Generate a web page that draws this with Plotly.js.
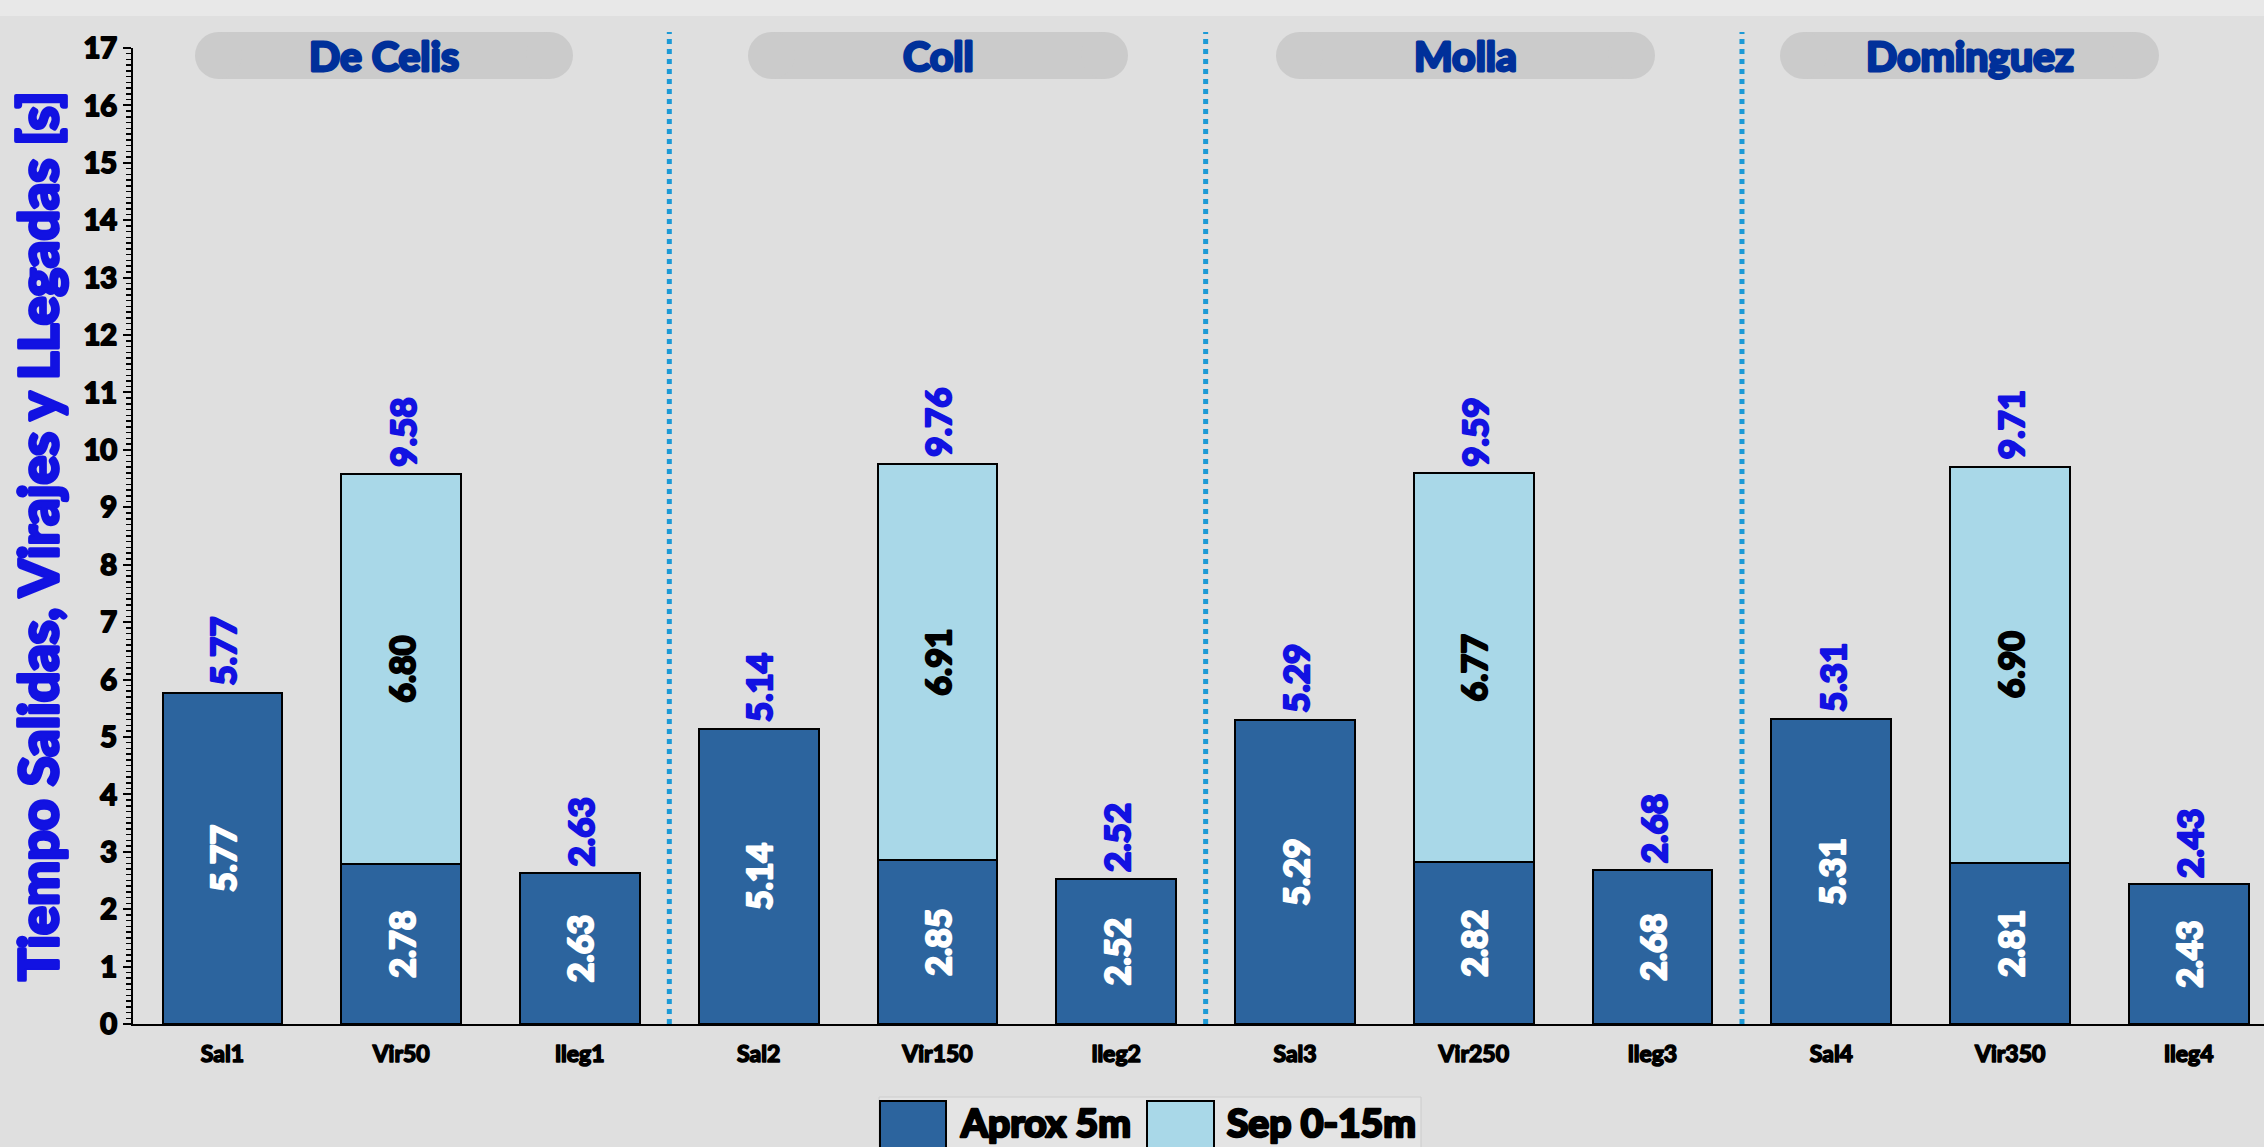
<!DOCTYPE html>
<html>
<head>
<meta charset="utf-8">
<script src="https://cdn.plot.ly/plotly-3.0.1.min.js"></script>
<style>html,body{margin:0;padding:0;background:#dfdfdf;}#chart{width:2264px;height:1147px;}</style>
</head>
<body>
<div id="chart"></div>
<script>
// ---- data ----
const categories = ['Sal1','Vir50','lleg1','Sal2','Vir150','lleg2','Sal3','Vir250','lleg3','Sal4','Vir350','lleg4'];
const aprox5m = [5.77, 2.78, 2.63, 5.14, 2.85, 2.52, 5.29, 2.82, 2.68, 5.31, 2.81, 2.43];
const sep015m = [null, 6.80, null, null, 6.91, null, null, 6.77, null, null, 6.90, null];
const groupNames = ['De Celis', 'Coll', 'Molla', 'Dominguez'];
const seriesNames = ['Aprox 5m', 'Sep 0-15m'];
const yTicks = [0,1,2,3,4,5,6,7,8,9,10,11,12,13,14,15,16,17];

// ---- styling / layout constants ----
const W = 2264, H = 1147;
const M = {l: 133, r: 0, t: 48, b: 123};
const PW = W - M.l - M.r, PH = H - M.t - M.b;
const XMIN = -0.5, XMAX = 11.42;
const FONT = 'Lato, "Open Sans", sans-serif';
const WT = 'bold';
const DARK = '#2c649e', LIGHT = '#a9d8e8';
const BLUE = '#1212e2', NAVY = '#00309a', SEP = '#1c9ad6';

const px = v => (v - M.l) / PW;          // pixel x -> paper x
const py = v => (M.t + PH - v) / PH;     // pixel y -> paper y
const catPaper = c => (c - XMIN) / (XMAX - XMIN);

const totals = aprox5m.map((v, i) => v + (sep015m[i] || 0));

const traces = [
  {
    type: 'bar', name: seriesNames[0], x: categories, y: aprox5m,
    marker: {color: DARK, line: {color: '#000', width: 2}},
    text: aprox5m.map(v => v.toFixed(2)), textposition: 'inside', insidetextanchor: 'middle',
    textangle: -90, constraintext: 'none',
    textfont: {family: FONT, size: 34, color: '#ffffff', weight: WT},
    showlegend: false, hoverinfo: 'x+y'
  },
  {
    type: 'bar', name: seriesNames[1], x: categories, y: sep015m,
    marker: {color: LIGHT, line: {color: '#000', width: 2}},
    text: sep015m.map(v => v == null ? '' : v.toFixed(2)), textposition: 'inside', insidetextanchor: 'middle',
    textangle: -90, constraintext: 'none',
    textfont: {family: FONT, size: 34, color: '#000000', weight: WT},
    showlegend: false, hoverinfo: 'x+y'
  }
];

const shapes = [];
const annotations = [];

// top lighter band
shapes.push({type: 'rect', xref: 'paper', yref: 'paper', x0: px(0), x1: px(W), y0: py(16), y1: py(0),
  fillcolor: '#e8e8e8', line: {width: 0}, layer: 'below'});

// group separators (between groups of 3 categories)
for (let g = 1; g < groupNames.length; g++) {
  const xp = catPaper(g * 3 - 0.5);
  shapes.push({type: 'line', xref: 'paper', yref: 'paper', x0: xp, x1: xp, y0: 0, y1: py(32),
    line: {color: SEP, width: 5, dash: '5px,5px'}});
}

// group pills
const pillPix = [[195, 573], [748, 1128], [1276, 1655], [1780, 2159]];
const pillTop = 32, pillBot = 79, pr = (pillBot - pillTop) / 2;
groupNames.forEach((name, g) => {
  const [a, b] = pillPix[g];
  shapes.push({type: 'rect', xref: 'paper', yref: 'paper', x0: px(a + pr), x1: px(b - pr), y0: py(pillBot), y1: py(pillTop),
    fillcolor: '#cbcbcb', line: {width: 0}, layer: 'below'});
  shapes.push({type: 'circle', xref: 'paper', yref: 'paper', x0: px(a), x1: px(a + 2 * pr), y0: py(pillBot), y1: py(pillTop),
    fillcolor: '#cbcbcb', line: {width: 0}, layer: 'below'});
  shapes.push({type: 'circle', xref: 'paper', yref: 'paper', x0: px(b - 2 * pr), x1: px(b), y0: py(pillBot), y1: py(pillTop),
    fillcolor: '#cbcbcb', line: {width: 0}, layer: 'below'});
  annotations.push({xref: 'paper', yref: 'paper', x: px((a + b) / 2), y: py((pillTop + pillBot) / 2),
    text: name, showarrow: false, xanchor: 'center', yanchor: 'middle',
    font: {family: FONT, size: 41, color: NAVY, weight: WT}});
});

// total labels above bars
categories.forEach((c, i) => {
  annotations.push({x: c, y: totals[i], xref: 'x', yref: 'y', text: totals[i].toFixed(2),
    showarrow: false, textangle: -90, xanchor: 'center', yanchor: 'bottom', yshift: 5,
    font: {family: FONT, size: 35, color: BLUE, weight: WT}});
});

// manual legend
shapes.push({type: 'rect', xref: 'paper', yref: 'paper', x0: px(879), x1: px(1421), y0: py(1150), y1: py(1097),
  fillcolor: '#e4e4e4', line: {color: '#cccccc', width: 1}, layer: 'below'});
const legItems = [
  {name: seriesNames[0], color: DARK, sw: [880, 946], tx: 958},
  {name: seriesNames[1], color: LIGHT, sw: [1147, 1214], tx: 1225}
];
legItems.forEach(it => {
  shapes.push({type: 'rect', xref: 'paper', yref: 'paper', x0: px(it.sw[0]), x1: px(it.sw[1]), y0: py(1160), y1: py(1101),
    fillcolor: it.color, line: {color: '#000', width: 2}});
  annotations.push({xref: 'paper', yref: 'paper', x: px(it.tx), y: py(1122), text: it.name, showarrow: false,
    xanchor: 'left', yanchor: 'middle', font: {family: FONT, size: 39, color: '#000', weight: WT}});
});

const layout = {
  width: W, height: H,
  margin: {l: M.l, r: M.r, t: M.t, b: M.b, autoexpand: false},
  paper_bgcolor: '#dfdfdf', plot_bgcolor: 'rgba(0,0,0,0)',
  barmode: 'stack', bargap: 0.33,
  showlegend: false,
  font: {family: FONT, color: '#000'},
  xaxis: {
    type: 'category', categoryorder: 'array', categoryarray: categories,
    range: [XMIN, XMAX], showline: true, linecolor: '#000', linewidth: 2,
    ticks: '', showgrid: false, zeroline: false, ticklabelstandoff: 8,
    tickfont: {family: FONT, size: 23, color: '#000', weight: WT}
  },
  yaxis: {
    range: [0, 17], tickvals: yTicks, ticktext: yTicks.map(String),
    showline: true, linecolor: '#000', linewidth: 2, showgrid: false, zeroline: false,
    ticks: 'outside', ticklen: 8, tickwidth: 2, tickcolor: '#000',
    minor: {dtick: 0.1, ticks: 'outside', ticklen: 5, tickwidth: 1.5, tickcolor: '#000', showgrid: false},
    tickfont: {family: FONT, size: 29, color: '#000', weight: WT},
    title: {text: 'Tiempo Salidas, Virajes y LLegadas [s]', standoff: 8,
      font: {family: FONT, size: 54, color: BLUE, weight: WT}}
  },
  yaxis2: {
    overlaying: 'y', anchor: 'x', side: 'left', range: [0, 17], dtick: 1,
    showline: false, showgrid: false, zeroline: false, showticklabels: false,
    ticks: 'inside', ticklen: 8, tickwidth: 2, tickcolor: '#000',
    minor: {dtick: 0.1, ticks: 'inside', ticklen: 5, tickwidth: 1.5, tickcolor: '#000', showgrid: false}
  },
  shapes: shapes,
  annotations: annotations
};

// make the text look heavier (the reference uses a very heavy typeface)
function thicken(gd) {
  gd.querySelectorAll('text').forEach(t => {
    const fill = t.style.fill;
    const fs = parseFloat(t.style.fontSize) || 20;
    if (fill) {
      t.style.stroke = fill;
      t.style.strokeWidth = (fs * 0.07).toFixed(2) + 'px';
      t.style.strokeLinejoin = 'round';
      t.style.paintOrder = 'stroke';
    }
  });
}

Plotly.newPlot('chart', traces, layout, {displayModeBar: false, staticPlot: true}).then(gd => {
  thicken(gd);
  gd.on('plotly_afterplot', () => thicken(gd));
});
</script>
</body>
</html>
